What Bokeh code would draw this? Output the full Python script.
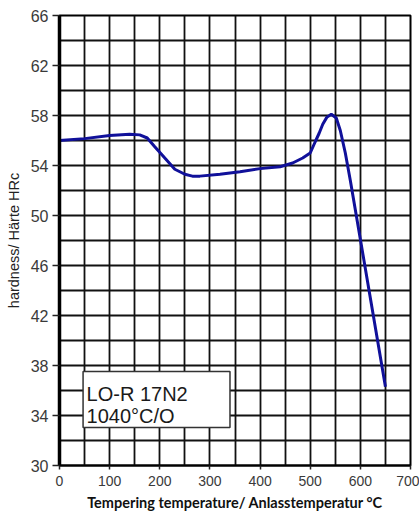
from bokeh.plotting import figure
from bokeh.models import FixedTicker, SingleIntervalTicker, BoxAnnotation, Label, Range1d
from bokeh.embed import file_html
from bokeh.resources import INLINE

# Tempering temperature (°C) and hardness (HRc)
temperature = [0, 50, 100, 140, 160, 175, 190, 210, 230, 250, 265, 280, 320, 360, 400,
               440, 465, 485, 500, 510, 518, 525, 533, 542, 552, 560, 570, 580, 600, 625, 650]
hardness = [56.0, 56.15, 56.4, 56.5, 56.45, 56.2, 55.5, 54.6, 53.7, 53.3, 53.15, 53.15, 53.3, 53.5, 53.75,
            53.9, 54.2, 54.6, 55.0, 55.9, 56.6, 57.3, 57.85, 58.1, 57.8, 56.8, 55.0, 52.8, 48.1, 42.2, 36.3]

x_ticks = [0, 100, 200, 300, 400, 500, 600, 700]
y_ticks = [30, 34, 38, 42, 46, 50, 54, 58, 62, 66]
label_lines = ["LO-R 17N2", "1040°C/O"]

p = figure(width=419, height=513, output_backend="svg", toolbar_location=None,
           x_range=Range1d(0, 700), y_range=Range1d(30, 66),
           min_border_left=59, min_border_right=9, min_border_top=15, min_border_bottom=47)
p.background_fill_color = "white"
p.border_fill_color = "white"
p.outline_line_color = "black"
p.outline_line_width = 2

# grids
p.xgrid.ticker = SingleIntervalTicker(interval=50)
p.ygrid.ticker = SingleIntervalTicker(interval=2)
for g in (p.xgrid, p.ygrid):
    g.grid_line_color = "#111111"
    g.grid_line_width = 1.8
    g.grid_line_alpha = 1

# axes
p.xaxis.ticker = FixedTicker(ticks=x_ticks)
p.yaxis.ticker = FixedTicker(ticks=y_ticks)
for ax in (p.xaxis, p.yaxis):
    ax.minor_tick_line_color = None
    ax.major_tick_in = 0
    ax.major_tick_line_color = "#222222"
    ax.major_tick_line_width = 1.5
    ax.major_label_text_font = "Liberation Sans"
    ax.major_label_text_color = "#3a3a3a"
    ax.axis_line_color = "black"
p.xaxis.major_tick_out = 4
p.yaxis.major_tick_out = 7
p.xaxis.axis_line_width = 2
p.yaxis.axis_line_width = 3.5
p.xaxis.major_label_text_font_size = "14px"
p.yaxis.major_label_text_font_size = "16px"
p.xaxis.major_label_standoff = 6
p.yaxis.major_label_standoff = 4

p.xaxis.axis_label = "Tempering temperature/ Anlasstemperatur °C"
p.xaxis.axis_label_text_font = "Lato"
p.xaxis.axis_label_text_font_style = "bold"
p.xaxis.axis_label_text_font_size = "14.5px"
p.xaxis.axis_label_text_color = "#111111"
p.xaxis.axis_label_standoff = 5

p.yaxis.axis_label = "hardness/ Härte HRc"
p.yaxis.axis_label_text_font = "Liberation Sans"
p.yaxis.axis_label_text_font_style = "normal"
p.yaxis.axis_label_text_font_size = "14.5px"
p.yaxis.axis_label_text_color = "#222222"
p.yaxis.axis_label_standoff = 6

# curve
p.line(temperature, hardness, line_color="#10109a", line_width=3)

# annotation box
box = BoxAnnotation(left=47, right=340, bottom=33.04, top=37.52,
                    fill_color="white", fill_alpha=1,
                    line_color="#333333", line_width=1.5, line_alpha=1)
p.add_layout(box)
p.add_layout(Label(x=54, y=35.76, text=label_lines[0], text_font="Liberation Sans",
                   text_font_size="20px", text_color="#1a1a1a", text_baseline="alphabetic"))
p.add_layout(Label(x=54, y=34.0, text=label_lines[1], text_font="Liberation Sans",
                   text_font_size="20px", text_color="#1a1a1a", text_baseline="alphabetic"))

open("out.html", "w").write(file_html(p, INLINE))
